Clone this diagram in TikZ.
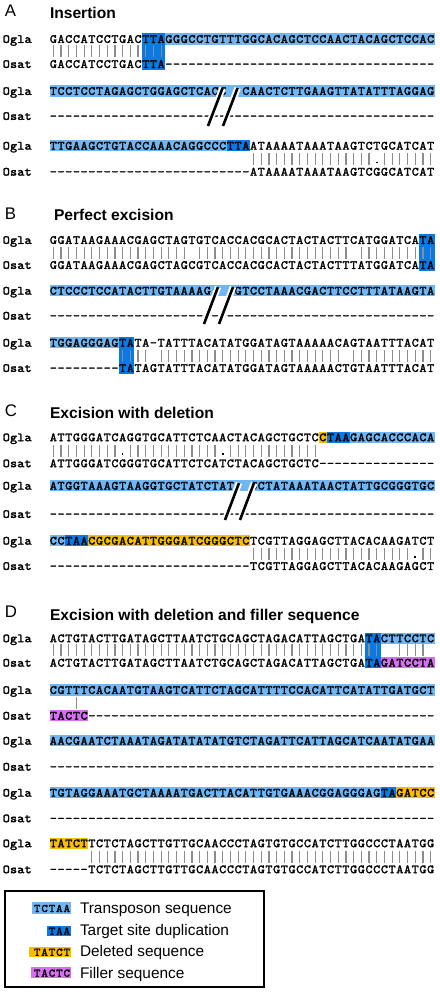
\documentclass[tikz,border=0pt]{standalone}
\usepackage{fontspec}
\setmainfont{Liberation Sans}
\newfontfamily\seqf[FakeBold=2,FakeStretch=1.08]{lmmono10-regular.otf}
\definecolor{lblue}{RGB}{112,182,242}
\definecolor{dblue}{RGB}{8,122,230}
\definecolor{dyel}{RGB}{246,190,0}
\definecolor{fpur}{RGB}{214,112,240}
\definecolor{bargray}{RGB}{140,140,140}
\ExplSyntaxOn
\cs_new:Npn \seqrep #1#2 { \prg_replicate:nn {#1} {#2} }
\ExplSyntaxOff
\makeatletter
\newlength\seqpitch
\setlength\seqpitch{7.7pt}
\def\seqline#1{\edef\seq@tmp{#1}\expandafter\seq@\seq@tmp\relax}
\def\seq@#1{\ifx\relax#1\else\hbox to\seqpitch{\hss\seq@ch#1\hss}\expandafter\seq@\fi}
\def\seq@ch#1{\ifx*#1\else#1\fi}
\def\barline#1{\edef\seq@tmp{#1}\expandafter\brl@\seq@tmp\relax}
\def\brl@#1{\ifx\relax#1\else\hbox to\seqpitch{\hss\brl@ch#1\hss}\expandafter\brl@\fi}
\def\brl@ch#1{\ifx|#1{\color{bargray}\rule{1.2pt}{12pt}}\else\ifx.#1\raisebox{2pt}{\rule{1.6pt}{1.6pt}}\fi\fi}
\makeatother
% rows: y = centre of the capitals
\newcommand\seqrow[3]{\node[seqtext,anchor=base west] (#1) at (49.5,{#2+3.9}) {\seqline{#3}};}
\newcommand\rowlab[3]{\node[seqtext,anchor=base west] (#1) at (2.7,{#2+3.9}) {\setlength\seqpitch{7.25pt}\seqline{#3}};}
\newcommand\barsrow[3]{\node[inner sep=0pt,outer sep=0pt,anchor=base west] (#1) at (49.5,{#2-6.5}) {\barline{#3}};}
\newcommand\hl[4]{\fill[#4] ({49.5+#2*7.7},{#1-5.7}) rectangle ({49.5+(#3+1)*7.7},{#1+5.7});}
\newcommand\hlc[5]{\fill[#5] ({49.5+#3*7.7},{#1-5.7}) rectangle ({49.5+(#4+1)*7.7},{#2+5.7});}
\newcommand\cutmark[4]{\draw[white,line width=6.5pt] (#1,#2)--(#3,#4); \draw[black,line width=2.6pt] (#1,#2)--(#3,#4);}
\begin{document}
\begin{tikzpicture}[x=1pt,y=-1pt,
  seqtext/.style={inner sep=0pt,outer sep=0pt,font={\fontsize{12.5}{14}\seqf}},
  panel/.style={inner sep=0pt,outer sep=0pt,anchor=base west,font={\fontsize{16.8}{19}\selectfont}},
  ptitle/.style={inner sep=0pt,outer sep=0pt,anchor=base west,font={\fontsize{15.6}{18}\selectfont\bfseries}},
  legtext/.style={inner sep=0pt,outer sep=0pt,anchor=base west,font={\fontsize{15.4}{18}\selectfont}},
  swtext/.style={inner sep=0pt,outer sep=0pt,anchor=base east,font={\fontsize{11.5}{13}\seqf}}]
\fill[white] (0,0) rectangle (439,992);
\useasboundingbox (0,0) rectangle (439,992);

% ---------------- A ----------------
\node[panel] (pA) at (5,16.7) {A};
\node[ptitle] (tA) at (50,18.3) {Insertion};
\hl{39}{15}{49}{lblue}
\hlc{39}{64}{12}{14}{dblue}
\hl{91}{0}{49}{lblue}
\hl{145.7}{0}{22}{lblue}
\hl{145.7}{23}{25}{dblue}
\rowlab{la1}{39}{Ogla}
\rowlab{la2}{64}{Osat}
\rowlab{la3}{91}{Ogla}
\rowlab{la4}{116}{Osat}
\rowlab{la5}{145.7}{Ogla}
\rowlab{la6}{171.7}{Osat}
\seqrow{a1g}{39}{GACCATCCTGACTTAGGGCCTGTTTGGCACAGCTCCAACTACAGCTCCAC}
\barsrow{a1b}{64}{\seqrep{15}{|}}
\seqrow{a1s}{64}{GACCATCCTGACTTA\seqrep{35}{-}}
\seqrow{a2g}{91}{TCCTCCTAGAGCTGGAGCTCACC**CAACTCTTGAAGTTATATTTAGGAG}
\seqrow{a2s}{116}{\seqrep{50}{-}}
\seqrow{a3g}{145.7}{TTGAAGCTGTACCAAACAGGCCCTTAATAAAATAAATAAGTCTGCATCAT}
\barsrow{a3b}{171.7}{\seqrep{26}{*}\seqrep{16}{|}.\seqrep{7}{|}}
\seqrow{a3s}{171.7}{\seqrep{26}{-}ATAAAATAAATAAGTCGGCATCAT}
\cutmark{208}{126}{222.6}{88}
\cutmark{223}{126}{237.6}{88}

% ---------------- B ----------------
\node[panel] (pB) at (5,220) {B};
\node[ptitle] (tB) at (54,220.7) {Perfect excision};
\hlc{240}{265}{48}{49}{dblue}
\hl{290.7}{0}{49}{lblue}
\hl{342.7}{0}{8}{lblue}
\hlc{342.7}{368}{9}{10}{dblue}
\rowlab{lb1}{240}{Ogla}
\rowlab{lb2}{265}{Osat}
\rowlab{lb3}{290.7}{Ogla}
\rowlab{lb4}{315.7}{Osat}
\rowlab{lb5}{342.7}{Ogla}
\rowlab{lb6}{368}{Osat}
\seqrow{b1g}{240}{GGATAAGAAACGAGCTAGTGTCACCACGCACTACTACTTCATGGATCATA}
\barsrow{b1b}{265}{\seqrep{18}{|}*\seqrep{20}{|}*\seqrep{10}{|}}
\seqrow{b1s}{265}{GGATAAGAAACGAGCTAGCGTCACCACGCACTACTACTTTATGGATCATA}
\seqrow{b2g}{290.7}{CTCCCTCCATACTTGTAAAAGA**GTCCTAAACGACTTCCTTTATAAGTA}
\seqrow{b2s}{315.7}{\seqrep{50}{-}}
\seqrow{b3g}{342.7}{TGGAGGGAGTATA-TATTTACATATGGATAGTAAAAACAGTAATTTACAT}
\barsrow{b3b}{368}{\seqrep{9}{*}\seqrep{4}{|}*\seqrep{24}{|}*\seqrep{11}{|}}
\seqrow{b3s}{368}{\seqrep{9}{-}TATAGTATTTACATATGGATAGTAAAAACTGTAATTTACAT}
\cutmark{204}{324}{218}{287}
\cutmark{219}{324}{233}{287}

% ---------------- C ----------------
\node[panel] (pC) at (5,416) {C};
\node[ptitle] (tC) at (50,418.3) {Excision with deletion};
\hl{437.3}{35}{35}{dyel}
\hl{437.3}{36}{38}{dblue}
\hl{437.3}{39}{49}{lblue}
\hl{485.7}{0}{49}{lblue}
\hl{540.7}{0}{1}{lblue}
\hl{540.7}{2}{4}{dblue}
\hl{540.7}{5}{25}{dyel}
\rowlab{lc1}{437.3}{Ogla}
\rowlab{lc2}{463.3}{Osat}
\rowlab{lc3}{485.7}{Ogla}
\rowlab{lc4}{514}{Osat}
\rowlab{lc5}{540.7}{Ogla}
\rowlab{lc6}{566}{Osat}
\seqrow{c1g}{437.3}{ATTGGGATCAGGTGCATTCTCAACTACAGCTGCTCCTAAGAGCACCCACA}
\barsrow{c1b}{463.3}{\seqrep{9}{|}.\seqrep{12}{|}.\seqrep{12}{|}}
\seqrow{c1s}{463.3}{ATTGGGATCGGGTGCATTCTCATCTACAGCTGCTC\seqrep{15}{-}}
\seqrow{c2g}{485.7}{ATGGTAAAGTAAGGTGCTATCTAT**CCTATAAATAACTATTGCGGGTGC}
\seqrow{c2s}{514}{\seqrep{50}{-}}
\seqrow{c3g}{540.7}{CCTAACGCGACATTGGGATCGGGCTCTCGTTAGGAGCTTACACAAGATCT}
\barsrow{c3b}{566}{\seqrep{26}{*}\seqrep{21}{|}.\seqrep{2}{|}}
\seqrow{c3s}{566}{\seqrep{26}{-}TCGTTAGGAGCTTACACAAGAGCT}
\cutmark{225}{520}{239}{483}
\cutmark{240}{520}{254}{483}

% ---------------- D ----------------
\node[panel] (pD) at (5,617) {D};
\node[ptitle] (tD) at (50,620) {Excision with deletion and filler sequence};
\hlc{638.3}{662.7}{41}{42}{dblue}
\hl{638.3}{43}{49}{lblue}
\hl{662.7}{43}{49}{fpur}
\hl{690}{0}{49}{lblue}
\hl{715.7}{0}{4}{fpur}
\hl{740.7}{0}{49}{lblue}
\hl{792.7}{0}{42}{lblue}
\hl{792.7}{43}{44}{dblue}
\hl{792.7}{45}{49}{dyel}
\hl{843.3}{0}{4}{dyel}
\rowlab{ld1}{638.3}{Ogla}
\rowlab{ld2}{662.7}{Osat}
\rowlab{ld3}{690}{Ogla}
\rowlab{ld4}{715.7}{Osat}
\rowlab{ld5}{740.7}{Ogla}
\rowlab{ld6}{766.7}{Osat}
\rowlab{ld7}{792.7}{Ogla}
\rowlab{ld8}{818.3}{Osat}
\rowlab{ld9}{843.3}{Ogla}
\rowlab{ld10}{869.3}{Osat}
\seqrow{d1g}{638.3}{ACTGTACTTGATAGCTTAATCTGCAGCTAGACATTAGCTGATACTTCCTC}
\barsrow{d1b}{662.7}{\seqrep{43}{|}**\seqrep{4}{|}}
\seqrow{d1s}{662.7}{ACTGTACTTGATAGCTTAATCTGCAGCTAGACATTAGCTGATAGATCCTA}
\seqrow{d2g}{690}{CGTTTCACAATGTAAGTCATTCTAGCATTTTCCACATTCATATTGATGCT}
\barsrow{d2b}{715.7}{***|}
\seqrow{d2s}{715.7}{TACTC\seqrep{45}{-}}
\seqrow{d3g}{740.7}{AACGAATCTAAATAGATATATATGTCTAGATTCATTAGCATCAATATGAA}
\seqrow{d3s}{766.7}{\seqrep{50}{-}}
\seqrow{d4g}{792.7}{TGTAGGAAATGCTAAAATGACTTACATTGTGAAACGGAGGGAGTAGATCC}
\seqrow{d4s}{818.3}{\seqrep{50}{-}}
\seqrow{d5g}{843.3}{TATCTTCTCTAGCTTGTTGCAACCCTAGTGTGCCATCTTGGCCCTAATGG}
\barsrow{d5b}{869.3}{\seqrep{5}{*}\seqrep{45}{|}}
\seqrow{d5s}{869.3}{-----TCTCTAGCTTGTTGCAACCCTAGTGTGCCATCTTGGCCCTAATGG}

% ---------------- legend ----------------
\draw[line width=1.3pt] (5,891) rectangle (264,987);
\fill[lblue] (32.3,902.3) rectangle (71,913.7);
\fill[dblue] (46.7,925.5) rectangle (70.5,936);
\fill[dyel] (29.3,946.5) rectangle (70.5,957.3);
\fill[fpur] (30.7,967.3) rectangle (70.5,978.3);
\node[swtext] (s1) at (70.5,912) {\setlength\seqpitch{7.4pt}\seqline{TCTAA}};
\node[swtext] (s2) at (70.5,934.6) {\setlength\seqpitch{7.4pt}\seqline{TAA}};
\node[swtext] (s3) at (70.5,955.8) {\setlength\seqpitch{7.4pt}\seqline{TATCT}};
\node[swtext] (s4) at (70.5,976.7) {\setlength\seqpitch{7.4pt}\seqline{TACTC}};
\node[legtext] (g1) at (80,913.3) {Transposon sequence};
\node[legtext] (g2) at (80,935.3) {Target site duplication};
\node[legtext] (g3) at (80,956.7) {Deleted sequence};
\node[legtext] (g4) at (80,978) {Filler sequence};
\end{tikzpicture}
\end{document}
